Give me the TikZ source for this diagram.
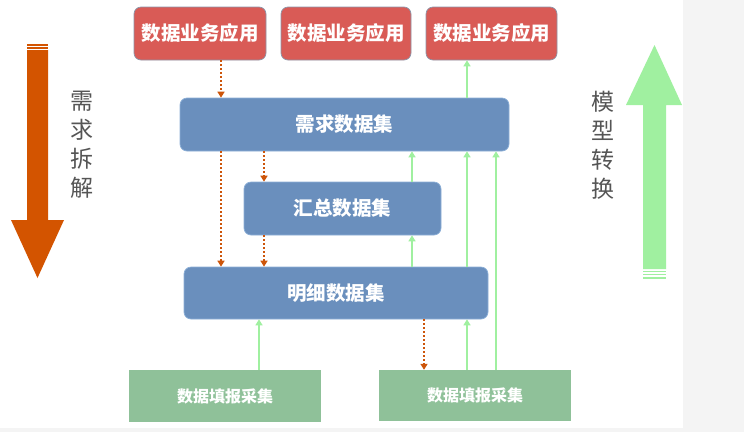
\documentclass[tikz,border=0pt]{standalone}
\usepackage{fontspec}
\newfontfamily\cjk{Noto Sans CJK SC}
\usetikzlibrary{arrows.meta}
\definecolor{redbox}{RGB}{217,91,86}
\definecolor{bluebox}{RGB}{106,143,189}
\definecolor{greenbox}{RGB}{143,193,153}
\definecolor{orangeline}{RGB}{205,85,10}
\definecolor{bigorange}{RGB}{211,84,0}
\definecolor{lightgreen}{RGB}{160,240,160}
\definecolor{sidegray}{RGB}{85,85,85}
\definecolor{bggray}{RGB}{244,244,244}
\tikzset{
  appbox/.style={draw={rgb,255:red,140;green,150;blue,170}, line width=0.7pt, fill=redbox, rounded corners=7pt, minimum height=53pt, text=white, font=\cjk\bfseries\fontsize{19.5}{19.5}\selectfont, inner sep=0pt},
  setbox/.style={draw={rgb,255:red,140;green,175;blue,215}, line width=0.7pt, fill=bluebox, rounded corners=7pt, text=white, font=\cjk\bfseries\fontsize{19.5}{19.5}\selectfont, inner sep=0pt},
  srcbox/.style={fill=greenbox, text=white, font=\cjk\bfseries\fontsize{16}{16}\selectfont, inner sep=0pt},
  downflow/.style={draw=orangeline, line width=2pt, dash pattern=on 2pt off 2pt, -{Triangle[length=6pt,width=7pt]}},
  upflow/.style={draw=lightgreen, line width=2pt, -{Triangle[length=6pt,width=7pt]}},
  sidetext/.style={text=sidegray, font=\cjk\fontsize{23}{29}\selectfont, align=center, inner sep=0pt}
}
\begin{document}
\begin{tikzpicture}[x=1pt,y=-1pt]
\useasboundingbox (0,0) rectangle (744,432);
\fill[white] (0,0) rectangle (744,432);
\fill[bggray] (683,0) rectangle (744,432);
\fill[bggray] (0,428) rectangle (744,432);

% big orange arrow
\fill[bigorange] (27,44) rectangle (48,45.5);
\fill[bigorange] (27,47) rectangle (48,48.5);
\fill[bigorange] (27,50) -- (48,50) -- (48,220) -- (64,220) -- (37.5,278) -- (11,220) -- (27,220) -- cycle;
\node[sidetext] (t1) at (82,145) {需\\求\\拆\\解};

% big green arrow
\fill[lightgreen] (654.5,45) -- (682,105) -- (666,105) -- (666,269) -- (643,269) -- (643,105) -- (626,105) -- cycle;
\fill[lightgreen] (643,270.5) rectangle (666,272);
\fill[lightgreen] (643,273.5) rectangle (666,275);
\fill[lightgreen] (643,277) rectangle (666,278.5);
\node[sidetext] (t2) at (603,145) {模\\型\\转\\换};

% boxes
\node[appbox, minimum width=132pt] (r1) at (200,33.5) {数据业务应用};
\node[appbox, minimum width=130pt] (r2) at (346,33.5) {数据业务应用};
\node[appbox, minimum width=131pt] (r3) at (491.5,33.5) {数据业务应用};
\node[setbox, minimum width=329pt, minimum height=53pt] (xq) at (344.5,124.5) {需求数据集};
\node[setbox, minimum width=197pt, minimum height=53pt] (hz) at (342.5,208.5) {汇总数据集};
\node[setbox, minimum width=304pt, minimum height=52pt] (mx) at (336,293) {明细数据集};
\node[srcbox, minimum width=192pt, minimum height=52pt] (g1) at (225,396) {数据填报采集};
\node[srcbox, minimum width=192pt, minimum height=51pt] (g2) at (475,395.5) {数据填报采集};

% x positions of connectors
\coordinate (xa) at (221,0);
\coordinate (xb) at (264,0);
\coordinate (xc) at (412,0);
\coordinate (xd) at (467,0);
\coordinate (xe) at (496,0);
\coordinate (xf) at (424,0);
\coordinate (xg) at (259,0);

% red dotted (downward)
\draw[downflow] (r1.south -| xa) -- (xq.north -| xa);
\draw[downflow] (xq.south -| xa) -- (mx.north -| xa);
\draw[downflow] (xq.south -| xb) -- (hz.north -| xb);
\draw[downflow] (hz.south -| xb) -- (mx.north -| xb);
\draw[downflow] (mx.south -| xf) -- (g2.north -| xf);

% green (upward)
\draw[upflow] (hz.north -| xc) -- (xq.south -| xc);
\draw[upflow] (mx.north -| xc) -- (hz.south -| xc);
\draw[upflow] (mx.north -| xd) -- (xq.south -| xd);
\draw[upflow] (xq.north -| xd) -- (r3.south -| xd);
\draw[upflow] (g2.north -| xd) -- (mx.south -| xd);
\draw[upflow] (g2.north -| xe) -- (xq.south -| xe);
\draw[upflow] (g1.north -| xg) -- (mx.south -| xg);
\end{tikzpicture}
\end{document}
